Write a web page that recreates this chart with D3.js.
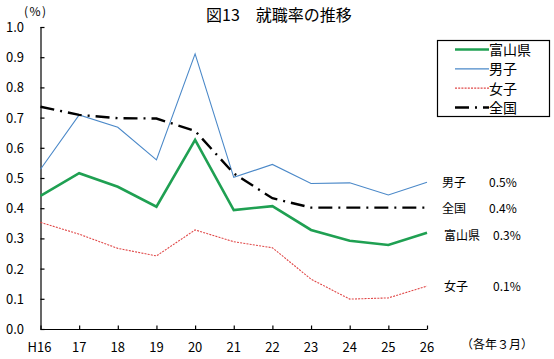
<!DOCTYPE html>
<html><head><meta charset="utf-8">
<script src="https://cdn.jsdelivr.net/npm/d3@7"></script>
<style>body{margin:0;background:#fff}text{font-family:"Noto Sans CJK JP","Noto Sans",sans-serif;}</style>
</head><body><svg id="c" width="554" height="359"></svg>
<script>
const years = ["H16","17","18","19","20","21","22","23","24","25","26"];
const toyama = [0.441,0.516,0.471,0.405,0.626,0.394,0.407,0.328,0.292,0.278,0.319];
const boys   = [0.529,0.709,0.668,0.560,0.911,0.502,0.545,0.482,0.484,0.444,0.486];
const girls  = [0.353,0.314,0.267,0.242,0.328,0.289,0.269,0.165,0.099,0.103,0.142];
const nation = [0.736,0.709,0.698,0.697,0.656,0.515,0.433,0.402,0.402,0.402,0.402];
const yTicks = [0,0.1,0.2,0.3,0.4,0.5,0.6,0.7,0.8,0.9,1.0];
const seriesNames = ["富山県","男子","女子","全国"];
const endLabels = [["男子","0.5%"],["全国","0.4%"],["富山県","0.3%"],["女子","0.1%"]];

const svg = d3.select("#c");
const x = d3.scalePoint().domain(years).range([40.5,427]);
const y = d3.scaleLinear().domain([0,1]).range([329,27]);

const series = [
  {name:"富山県", data:toyama, color:"#1fa052", width:2.6, dash:null},
  {name:"男子", data:boys, color:"#4a88c8", width:1.1, dash:null},
  {name:"女子", data:girls, color:"#e04848", width:1.1, dash:"2,1.2"},
  {name:"全国", data:nation, color:"#000", width:2.4, dash:"14,6,2,6"}
];

// axes
const yAxis = d3.axisRight(y).tickValues(yTicks).tickSize(4).tickFormat("");
const gy = svg.append("g").attr("transform","translate(40.5,0)").call(yAxis);
gy.select(".domain").attr("d","M0.5,27V329");
const xAxis = d3.axisTop(x).tickSize(4).tickFormat("");
const gx = svg.append("g").attr("transform","translate(0,329.5)").call(xAxis);
gx.select(".domain").attr("d","M40.5,0H427");
svg.selectAll(".domain,.tick line").attr("stroke","#000").attr("stroke-width",1.2);

// tick labels
svg.append("g").selectAll("text").data(yTicks).join("text")
  .attr("x",24).attr("y",d=>y(d)+5).attr("text-anchor","end")
  .attr("font-size",13).text(d=>d.toFixed(1));
svg.append("g").selectAll("text").data(years).join("text")
  .attr("x",d=>x(d)+(d==="H16"?-1:0)).attr("y",352).attr("text-anchor","middle")
  .attr("font-size",13).text(d=>d);

svg.append("text").attr("x",24).attr("y",16).attr("font-size",12).attr("letter-spacing",1.5).text("(%)");
svg.append("text").attr("x",461).attr("y",349).attr("font-size",12).text("（各年３月）");
svg.append("text").attr("x",279).attr("y",21).attr("text-anchor","middle").attr("font-size",16).text("図13　就職率の推移");

// lines
const line = d3.line().x((d,i)=>x(years[i])).y(d=>y(d));
series.forEach(s=>{
  svg.append("path").datum(s.data).attr("d",line).attr("fill","none")
    .attr("stroke",s.color).attr("stroke-width",s.width)
    .attr("stroke-dasharray",s.dash).attr("stroke-linejoin","miter");
});

// legend
const lg = svg.append("g");
lg.append("rect").attr("x",437.5).attr("y",40.5).attr("width",112).attr("height",76)
  .attr("fill","#fff").attr("stroke","#000").attr("stroke-width",1.2);
const rowY = d3.scalePoint().domain(seriesNames).range([49.5,107.5]);
series.forEach(s=>{
  lg.append("line").attr("x1",455).attr("x2",489).attr("y1",rowY(s.name)).attr("y2",rowY(s.name))
    .attr("stroke",s.color).attr("stroke-width",s.width).attr("stroke-dasharray",s.dash);
  lg.append("text").attr("x",489).attr("y",rowY(s.name)+5.5).attr("font-size",14).text(s.name);
});

// end labels
const el = svg.append("g");
endLabels.forEach(([n,v],i)=>{
  const yy = [182,208,235,286][i];
  const shifted = n==="富山県"||n==="女子";
  el.append("text").attr("x",shifted?444:442).attr("y",yy+4.5).attr("font-size",12).text(n);
  el.append("text").attr("x",shifted?493:489).attr("y",yy+4.5).attr("font-size",12).text(v);
});
</script></body></html>
